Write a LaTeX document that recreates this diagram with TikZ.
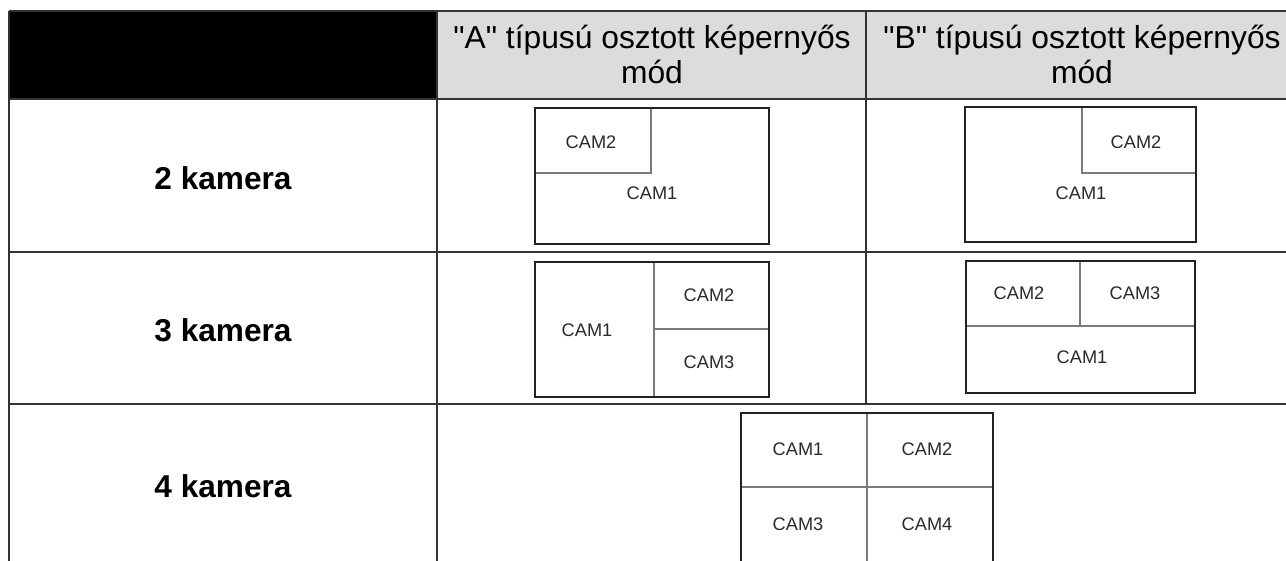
\documentclass[tikz,border=0pt]{standalone}
\usepackage{fontspec}
\setmainfont{Liberation Sans}[Ligatures=TeXOff]
\definecolor{hdrgray}{HTML}{DCDCDC}
\definecolor{gridcol}{HTML}{333333}
\definecolor{boxcol}{HTML}{222222}
\definecolor{subcol}{HTML}{7A7A7A}
\definecolor{camtext}{HTML}{2A2A2A}
\tikzset{
  grid/.style={draw=gridcol, line width=1.5pt},
  screen/.style={draw=boxcol, line width=1.6pt},
  divider/.style={draw=subcol, line width=1.3pt},
  hdrtext/.style={anchor=base, inner sep=0pt, font=\fontsize{31.8}{35}\selectfont, text=black},
  rowtext/.style={anchor=base, inner sep=0pt, font=\fontsize{31.6}{35}\selectfont\bfseries, text=black},
  camlabel/.style={inner sep=0pt, font=\fontsize{18.2}{20}\selectfont, text=camtext},
}
\begin{document}
\begin{tikzpicture}[x=1pt,y=-1pt]
\useasboundingbox (0,0) rectangle (1286,560);
\clip (0,0) rectangle (1286,560);
\fill[white] (0,0) rectangle (1286,560);
% header cells
\fill[black] (9,11) rectangle (437,99);
\fill[hdrgray] (437,11) rectangle (1300,99);
% grid
\draw[grid] (9,11) -- (1300,11);
\draw[grid] (9,99) -- (1300,99);
\draw[grid] (9,252) -- (1300,252);
\draw[grid] (9,404) -- (1300,404);
\draw[grid] (9,11) -- (9,580);
\draw[grid] (437,11) -- (437,580);
\draw[grid] (866,11) -- (866,404);
% header texts
\node[hdrtext] (hA1) at (652,48) {"A" típusú osztott képernyős};
\node[hdrtext] (hA2) at (652,83) {mód};
\node[hdrtext] (hB1) at (1082,48) {"B" típusú osztott képernyős};
\node[hdrtext] (hB2) at (1082,83) {mód};
% row labels
\node[rowtext] (r2) at (223,189) {2 kamera};
\node[rowtext] (r3) at (223,341) {3 kamera};
\node[rowtext] (r4) at (223,497) {4 kamera};
% 2 cameras, A
\draw[divider] (651,108) -- (651,173) -- (535,173);
\draw[screen] (535,108) rectangle (769,244);
\node[camlabel] (a2c2) at (591,142) {CAM2};
\node[camlabel] (a2c1) at (652,193) {CAM1};
% 2 cameras, B
\draw[divider] (1082,107) -- (1082,173) -- (1196,173);
\draw[screen] (965,107) rectangle (1196,242);
\node[camlabel] (b2c2) at (1136,142) {CAM2};
\node[camlabel] (b2c1) at (1081,193) {CAM1};
% 3 cameras, A
\draw[divider] (654,262) -- (654,397);
\draw[divider] (654,329) -- (769,329);
\draw[screen] (535,262) rectangle (769,397);
\node[camlabel] (a3c1) at (587,330) {CAM1};
\node[camlabel] (a3c2) at (709,295) {CAM2};
\node[camlabel] (a3c3) at (709,362) {CAM3};
% 3 cameras, B
\draw[divider] (966,326) -- (1195,326);
\draw[divider] (1080,261) -- (1080,326);
\draw[screen] (966,261) rectangle (1195,393);
\node[camlabel] (b3c2) at (1019,293) {CAM2};
\node[camlabel] (b3c3) at (1135,293) {CAM3};
\node[camlabel] (b3c1) at (1082,357) {CAM1};
% 4 cameras
\draw[divider] (867,413) -- (867,575);
\draw[divider] (741,487) -- (993,487);
\draw[screen] (741,413) rectangle (993,575);
\node[camlabel] (q1) at (798,449) {CAM1};
\node[camlabel] (q2) at (927,449) {CAM2};
\node[camlabel] (q3) at (798,524) {CAM3};
\node[camlabel] (q4) at (927,524) {CAM4};
\end{tikzpicture}
\end{document}
